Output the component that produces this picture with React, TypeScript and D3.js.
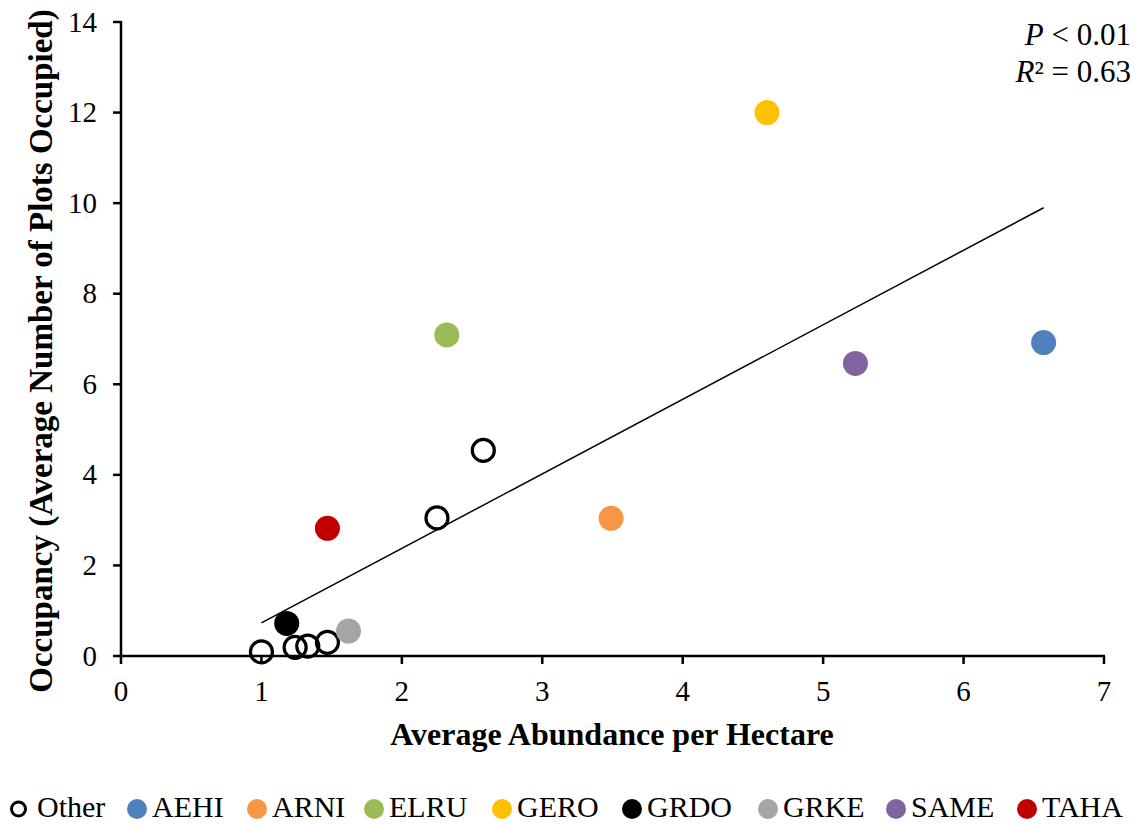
import React from "react";
import * as d3 from "d3";

const groups = ["Other", "AEHI", "ARNI", "ELRU", "GERO", "GRDO", "GRKE", "SAME", "TAHA"];
const groupColors = ["none", "#4F81BD", "#F79646", "#9BBB59", "#FFC000", "#000000", "#A5A5A5", "#8064A2", "#C00000"];

const otherX = [1.0, 1.24, 1.33, 1.47, 2.25, 2.58];
const otherY = [0.09, 0.19, 0.22, 0.3, 3.05, 4.54];

const speciesX = [6.57, 3.49, 2.32, 4.6, 1.18, 1.62, 5.23, 1.47];
const speciesY = [6.92, 3.04, 7.09, 12.0, 0.72, 0.55, 6.46, 2.82];

const trendX = [1.0, 6.57];
const trendSlope = 1.646;
const trendIntercept = -0.916;

const xTicks = [0, 1, 2, 3, 4, 5, 6, 7];
const yTicks = [0, 2, 4, 6, 8, 10, 12, 14];

const legendTextX = [37, 152, 272, 389, 517, 647, 783, 911, 1042];

const FONT = "Liberation Serif, Times New Roman, serif";
const ts = { fontFamily: FONT };

export default function App() {
  const x = d3.scaleLinear().domain([0, 7]).range([121, 1104]);
  const y = d3.scaleLinear().domain([0, 14]).range([656, 22]);
  const line = d3
    .line<number>()
    .x((d) => x(d))
    .y((d) => y(trendSlope * d + trendIntercept));

  return (
    <svg
      width={1142}
      height={825}
      style={{ position: "absolute", left: 0, top: 0, background: "#fff" }}
    >
      {/* axes */}
      <line x1={x(0)} x2={x(0)} y1={y(14) - 1} y2={y(0) + 1} stroke="#000" strokeWidth={2.5} />
      <line x1={x(0) - 1} x2={x(7) + 1} y1={y(0)} y2={y(0)} stroke="#000" strokeWidth={2.5} />
      {yTicks.map((t) => (
        <g key={"y" + t}>
          <line x1={x(0) - 8} x2={x(0)} y1={y(t)} y2={y(t)} stroke="#000" strokeWidth={2.5} />
          <text x={97} y={y(t) + 9.5} textAnchor="end" fontSize={29} style={ts}>
            {t}
          </text>
        </g>
      ))}
      {xTicks.map((t) => (
        <g key={"x" + t}>
          <line x1={x(t)} x2={x(t)} y1={y(0)} y2={y(0) + 8} stroke="#000" strokeWidth={2.5} />
          <text x={x(t)} y={701} textAnchor="middle" fontSize={29} style={ts}>
            {t}
          </text>
        </g>
      ))}
      <text x={612} y={745} textAnchor="middle" fontSize={32} fontWeight="bold" style={ts}>
        Average Abundance per Hectare
      </text>
      <text
        transform={`translate(52, 351) rotate(-90)`}
        textAnchor="middle"
        fontSize={33}
        fontWeight="bold"
        style={ts}
      >
        Occupancy (Average Number of Plots Occupied)
      </text>

      {/* trendline */}
      <path d={line(trendX) || ""} fill="none" stroke="#000" strokeWidth={1.5} />

      {/* other points */}
      {otherX.map((v, i) => (
        <circle
          key={"o" + i}
          cx={x(v)}
          cy={y(otherY[i])}
          r={11}
          fill="#fff"
          fillOpacity={0}
          stroke="#000"
          strokeWidth={3.2}
        />
      ))}
      {/* species points */}
      {speciesX.map((v, i) => (
        <circle key={"s" + i} cx={x(v)} cy={y(speciesY[i])} r={12.5} fill={groupColors[i + 1]} />
      ))}

      {/* stats annotation */}
      <text x={1131} y={45} textAnchor="end" fontSize={31} style={ts}>
        <tspan fontStyle="italic">P</tspan> &lt; 0.01
      </text>
      <text x={1131} y={82} textAnchor="end" fontSize={31} style={ts}>
        <tspan fontStyle="italic">R</tspan>² = 0.63
      </text>

      {/* legend */}
      {groups.map((g, i) => (
        <g key={"l" + g}>
          {i === 0 ? (
            <circle cx={legendTextX[i] - 18.5} cy={809} r={7} fill="none" stroke="#000" strokeWidth={3} />
          ) : (
            <circle cx={legendTextX[i] - 15} cy={809} r={10} fill={groupColors[i]} />
          )}
          <text x={legendTextX[i]} y={817} fontSize={30} style={ts}>
            {g}
          </text>
        </g>
      ))}
    </svg>
  );
}
